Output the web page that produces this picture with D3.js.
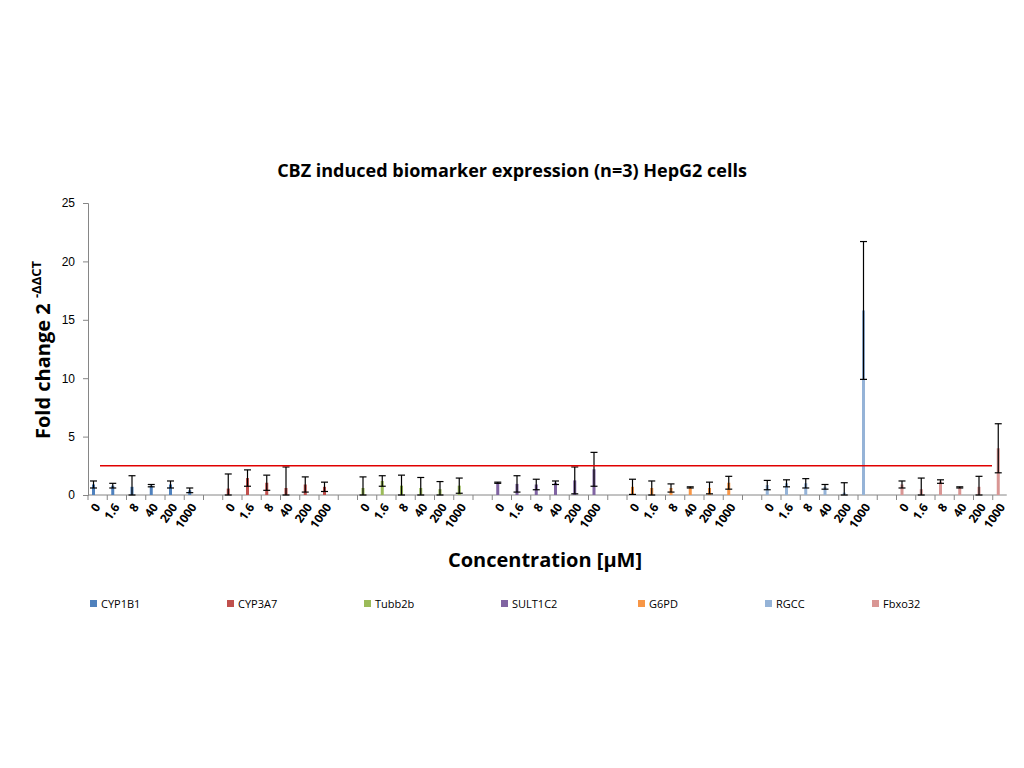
<!DOCTYPE html>
<html><head><meta charset="utf-8">
<script src="https://cdn.jsdelivr.net/npm/d3@7"></script>
<style>body{margin:0;background:#fff;font-family:"Open Sans",sans-serif}</style>
</head><body>
<svg id="chart" width="1024" height="768"></svg>
<script>
const genes = ["CYP1B1", "CYP3A7", "Tubb2b", "SULT1C2", "G6PD", "RGCC", "Fbxo32"];
const doses = ["0", "1.6", "8", "40", "200", "1000"];
const colors = ["#4f81bd", "#c0504d", "#9bbb59", "#8064a2", "#f79646", "#95b3d7", "#d99694"];
// mean fold change per gene x dose
const means = [
  [0.9, 0.8, 0.7, 0.8, 0.9, 0.4],
  [0.55, 1.45, 1.05, 0.6, 0.9, 0.7],
  [0.6, 1.2, 0.8, 0.6, 0.5, 0.8],
  [1.05, 0.95, 0.9, 1.05, 1.25, 2.2],
  [0.7, 0.6, 0.6, 0.65, 0.6, 1.05],
  [0.85, 1.0, 1.0, 0.7, 0.2, 15.8],
  [0.9, 0.5, 1.15, 0.65, 0.7, 4.0]
];
const errs = [
  [0.3, 0.2, 0.95, 0.1, 0.3, 0.2],
  [1.25, 0.7, 0.65, 1.8, 0.65, 0.4],
  [0.95, 0.45, 0.9, 0.9, 0.65, 0.65],
  [0.05, 0.7, 0.45, 0.15, 1.15, 1.45],
  [0.65, 0.6, 0.35, 0.05, 0.5, 0.55],
  [0.4, 0.3, 0.4, 0.2, 0.85, 5.9],
  [0.3, 0.95, 0.15, 0.05, 0.9, 2.1]
];
const threshold = 2.5;

const svg = d3.select("#chart");
const m = { l: 88, r: 1012, t: 203, b: 495 };

// 7 slots per gene (6 doses + 1 gap), last gap dropped
const slots = d3.range(genes.length * 7 - 1);
const x = d3.scaleBand().domain(slots).range([m.l, m.r]).paddingInner(0).paddingOuter(0);
const y = d3.scaleLinear().domain([0, 25]).range([m.b, m.t]);

const data = [];
genes.forEach((g, gi) => doses.forEach((d, di) => {
  data.push({ gene: g, gi, dose: d, slot: gi * 7 + di, v: means[gi][di], e: errs[gi][di] });
}));

// axes
const yAxis = svg.append("g").attr("transform", `translate(${m.l},0)`)
  .call(d3.axisLeft(y).tickValues([0, 5, 10, 15, 20, 25]).tickSize(5).tickPadding(8));
yAxis.select(".domain").attr("stroke", "#868686");
yAxis.selectAll(".tick line").attr("stroke", "#868686");
yAxis.selectAll("text").attr("font-size", 12).attr("fill", "#000");

const xEnd = m.l + (slots.length - 1) * x.step() + 14;
svg.append("line").attr("x1", m.l).attr("x2", xEnd).attr("y1", m.b).attr("y2", m.b).attr("stroke", "#868686");
svg.append("g").selectAll("line").data(slots).join("line")
  .attr("x1", d => m.l + d * x.step()).attr("x2", d => m.l + d * x.step())
  .attr("y1", m.b).attr("y2", m.b + 5).attr("stroke", "#868686");

const bw = 3, off = 4;
const bx = d => x(d.slot) + off;

svg.append("g").selectAll("rect").data(data).join("rect")
  .attr("x", bx).attr("width", bw)
  .attr("y", d => y(d.v)).attr("height", d => y(0) - y(d.v))
  .attr("fill", d => colors[d.gi]);

const eb = svg.append("g").attr("stroke", "#000").attr("stroke-width", 1.2);
data.forEach(d => {
  const cx = bx(d) + bw / 2;
  const lo = Math.max(0, d.v - d.e);
  eb.append("line").attr("x1", cx).attr("x2", cx).attr("y1", y(lo)).attr("y2", y(d.v + d.e));
  [lo, d.v + d.e].forEach(v => eb.append("line").attr("x1", cx - 3.5).attr("x2", cx + 3.5).attr("y1", y(v)).attr("y2", y(v)));
});

// threshold line
svg.append("line").attr("x1", x(0) + 12).attr("x2", 992)
  .attr("y1", y(threshold)).attr("y2", y(threshold)).attr("stroke", "#e00000").attr("stroke-width", 1.6);

// dose labels
svg.append("g").selectAll("text").data(data).join("text")
  .attr("transform", d => `translate(${bx(d) + 9},${m.b + 12}) rotate(-55)`)
  .attr("text-anchor", "end").attr("font-size", 12).attr("font-weight", "bold")
  .text(d => d.dose);

// titles
svg.append("text").attr("x", 512).attr("y", 177).attr("text-anchor", "middle")
  .attr("font-size", 18).attr("font-weight", "bold").text("CBZ induced biomarker expression (n=3) HepG2 cells");
svg.append("text").attr("x", 545).attr("y", 567).attr("text-anchor", "middle")
  .attr("font-size", 20).attr("font-weight", "bold").text("Concentration [µM]");
const yl = svg.append("text").attr("transform", "translate(50,350) rotate(-90)")
  .attr("text-anchor", "middle").attr("font-size", 20).attr("font-weight", "bold");
yl.append("tspan").text("Fold change 2 ");
yl.append("tspan").attr("font-size", 13).attr("dy", -9).text("-ΔΔCT");

// legend
const lx = [90, 227, 364, 501, 638, 765, 872];
const lg = svg.append("g").selectAll("g").data(genes).join("g")
  .attr("transform", (d, i) => `translate(${lx[i]},604)`);
lg.append("rect").attr("x", 0).attr("y", -4).attr("width", 7).attr("height", 7).attr("fill", (d, i) => colors[i]);
lg.append("text").attr("x", 11).attr("y", 4).attr("font-size", 11).text(d => d);
</script>
</body></html>
